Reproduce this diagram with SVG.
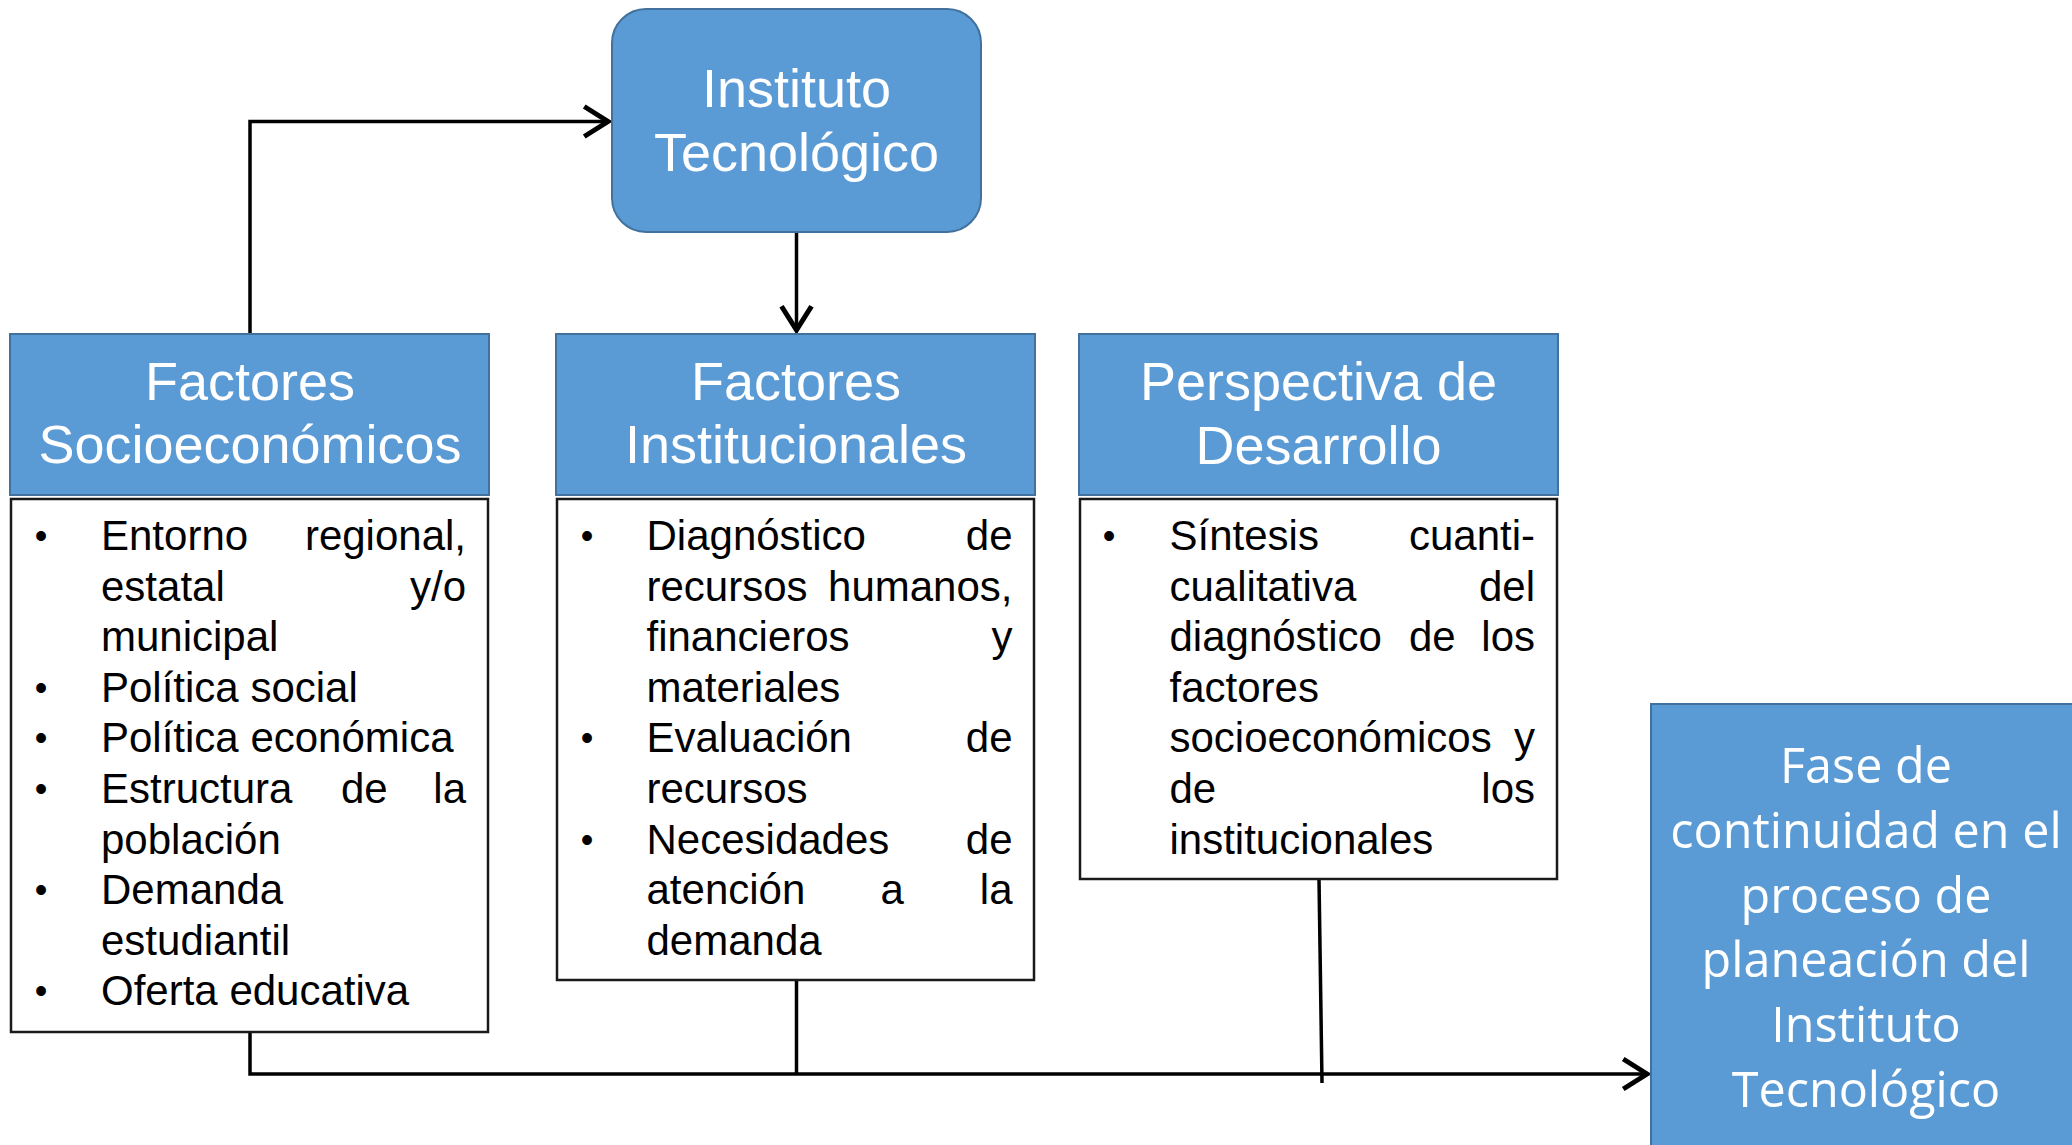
<svg xmlns="http://www.w3.org/2000/svg" width="2072" height="1145" viewBox="0 0 2072 1145">
<defs>
<style>
.hdr{fill:#5B9BD5;stroke:#41719C;stroke-width:2}
.box{fill:#FFFFFF;stroke:#1A1A1A;stroke-width:2.5}
.ht{font-family:"Liberation Sans",Arial,sans-serif;font-size:54px;fill:#FFFFFF;text-anchor:middle}
.bt{font-family:"Liberation Sans",Arial,sans-serif;font-size:42px;fill:#000000}
.e{text-anchor:end}
.bl{text-anchor:middle;font-size:36px}
.ft{font-family:"Open Sans","Noto Sans",sans-serif;font-size:48.5px;fill:#FFFFFF;text-anchor:middle}
.con{fill:none;stroke:#000000;stroke-width:3.5}
</style>
<marker id="arr" markerUnits="userSpaceOnUse" markerWidth="40" markerHeight="40" viewBox="-26 -16 30 32" refX="0" refY="0" orient="auto">
<path d="M-19,-12 L0,0 L-19,12" fill="none" stroke="#000000" stroke-width="4"/>
</marker>
</defs>
<rect width="2072" height="1145" fill="#FFFFFF"/>

<g id="connectors">
<path class="con" d="M250,334 V121.5 H608" marker-end="url(#arr)"/>
<path class="con" d="M796.5,232 V330" marker-end="url(#arr)"/>
<path class="con" d="M250,1032 V1074 H1647" marker-end="url(#arr)"/>
<path class="con" d="M796.5,980 V1074"/>
<path class="con" d="M1319,879 L1322,1083"/>
</g>

<g id="instituto">
<rect x="612" y="9" width="369" height="223" rx="34" ry="34" class="hdr"/>
<text class="ht" x="796.5" y="107">Instituto</text>
<text class="ht" x="796.5" y="171">Tecnológico</text>
</g>

<g id="socioeconomicos">
<rect x="10" y="334" width="479" height="161" class="hdr"/>
<text class="ht" x="250" y="400">Factores</text>
<text class="ht" x="250" y="463">Socioeconómicos</text>
<rect x="11" y="499" width="477" height="533" class="box"/>
<g class="bt">
<text class="bl" x="41" y="548">•</text>
<text x="101" y="550">Entorno</text><text class="e" x="466" y="550">regional,</text>
<text x="101" y="600.6">estatal</text><text class="e" x="466" y="600.6">y/o</text>
<text x="101" y="651.2">municipal</text>
<text class="bl" x="41" y="699.8">•</text>
<text x="101" y="701.8">Política social</text>
<text class="bl" x="41" y="750.4">•</text>
<text x="101" y="752.4">Política económica</text>
<text class="bl" x="41" y="801">•</text>
<text x="101" y="803">Estructura</text><text x="341" y="803">de</text><text class="e" x="466" y="803">la</text>
<text x="101" y="853.6">población</text>
<text class="bl" x="41" y="902.2">•</text>
<text x="101" y="904.2">Demanda</text>
<text x="101" y="954.8">estudiantil</text>
<text class="bl" x="41" y="1003.4">•</text>
<text x="101" y="1005.4">Oferta educativa</text>
</g>
</g>

<g id="institucionales">
<rect x="556" y="334" width="479" height="161" class="hdr"/>
<text class="ht" x="796" y="400">Factores</text>
<text class="ht" x="796" y="463">Institucionales</text>
<rect x="557" y="499" width="477" height="481" class="box"/>
<g class="bt">
<text class="bl" x="587" y="548">•</text>
<text x="646.5" y="550">Diagnóstico</text><text class="e" x="1012.5" y="550">de</text>
<text x="646.5" y="600.6">recursos</text><text class="e" x="1012.5" y="600.6">humanos,</text>
<text x="646.5" y="651.2">financieros</text><text class="e" x="1012.5" y="651.2">y</text>
<text x="646.5" y="701.8">materiales</text>
<text class="bl" x="587" y="750.4">•</text>
<text x="646.5" y="752.4">Evaluación</text><text class="e" x="1012.5" y="752.4">de</text>
<text x="646.5" y="803">recursos</text>
<text class="bl" x="587" y="851.6">•</text>
<text x="646.5" y="853.6">Necesidades</text><text class="e" x="1012.5" y="853.6">de</text>
<text x="646.5" y="904.2">atención</text><text x="880.6" y="904.2">a</text><text class="e" x="1012.5" y="904.2">la</text>
<text x="646.5" y="954.8">demanda</text>
</g>
</g>

<g id="perspectiva">
<rect x="1079" y="334" width="479" height="161" class="hdr"/>
<text class="ht" x="1318.5" y="400">Perspectiva de</text>
<text class="ht" x="1318.5" y="464">Desarrollo</text>
<rect x="1080" y="499" width="477" height="380" class="box"/>
<g class="bt">
<text class="bl" x="1109" y="548">•</text>
<text x="1169.5" y="550">Síntesis</text><text class="e" x="1535" y="550">cuanti-</text>
<text x="1169.5" y="600.6">cualitativa</text><text class="e" x="1535" y="600.6">del</text>
<text x="1169.5" y="651.2">diagnóstico</text><text x="1409" y="651.2">de</text><text class="e" x="1535" y="651.2">los</text>
<text x="1169.5" y="701.8">factores</text>
<text x="1169.5" y="752.4">socioeconómicos</text><text class="e" x="1535" y="752.4">y</text>
<text x="1169.5" y="803">de</text><text class="e" x="1535" y="803">los</text>
<text x="1169.5" y="853.6">institucionales</text>
</g>
</g>

<g id="fase">
<rect x="1651" y="704" width="440" height="460" class="hdr"/>
<text class="ft" x="1866" y="783">Fase de</text>
<text class="ft" x="1866" y="848">continuidad en el</text>
<text class="ft" x="1866" y="913">proceso de</text>
<text class="ft" x="1866" y="977">planeación del</text>
<text class="ft" x="1866" y="1042">Instituto</text>
<text class="ft" x="1866" y="1107">Tecnológico</text>
</g>
</svg>
